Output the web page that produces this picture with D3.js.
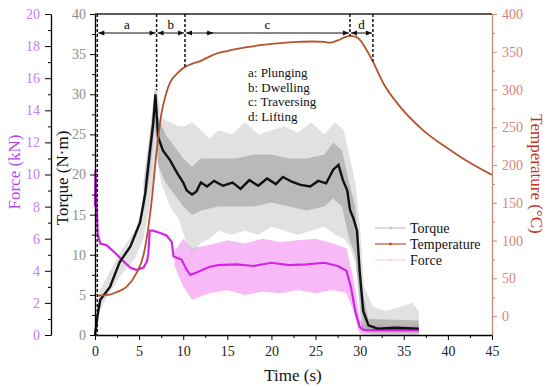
<!DOCTYPE html>
<html>
<head>
<meta charset="utf-8">
<script src="https://cdn.jsdelivr.net/npm/d3@7"></script>
<style>
  body { margin: 0; background: #fff; }
</style>
</head>
<body>
<div id="chart"></div>
<script>
// temperature (deg C) vs time
var tempTime = [0.3, 1.5, 2.5, 3.6, 4.7, 5.5, 6.0, 6.4, 7.0, 7.55, 8.0, 8.5, 9.3, 10.2, 11.0, 12.0, 13.4, 15.0, 17.2, 19.0, 21.0, 23.0, 24.7, 26.0, 26.6, 27.5, 28.3, 28.9, 29.5, 30.0, 30.8, 31.5, 32.7, 34.6, 37.2, 40.25, 42.5, 45];
var temp = [27, 28, 32, 39, 57, 81, 114, 150, 220, 269, 292, 309, 321, 330, 334, 338, 346, 351, 356, 359, 361.5, 363, 363.6, 363, 362, 365, 369, 371, 370, 366, 352, 337, 308, 277, 246, 220, 203, 187];

// torque (N.m) mean line
var torqueTime = [0, 0.3, 0.6, 1.7, 2.8, 4.0, 5.1, 5.7, 6.2, 6.6, 6.85, 7.15, 7.7, 8.5, 9.3, 10.0, 10.4, 11.0, 11.5, 12.0, 12.7, 13.5, 14.5, 15.6, 16.5, 17.5, 18.5, 19.5, 20.5, 21.3, 22.3, 23.3, 24.4, 25.3, 26.2, 27.0, 27.6, 28.1, 28.6, 28.9, 29.3, 29.7, 30.0, 30.4, 31.0, 32, 34, 36.7];
var torque = [0, 2.5, 4.4, 6, 9.1, 11, 14, 17.7, 22.7, 26.4, 30, 24.7, 23, 21.8, 20.2, 19, 18, 17.5, 17.9, 19, 18.5, 19.2, 18.6, 19, 18.2, 19.3, 18.6, 19.5, 18.8, 19.7, 19.1, 18.7, 18.5, 19.2, 18.9, 20.6, 21.2, 19.3, 18, 15.6, 14.5, 13, 8, 3, 1.2, 0.8, 0.9, 0.8];

// torque scatter envelope (outer, light)
var torqueBandTime = [0, 0.5, 1.5, 3, 4.5, 5.5, 6.2, 6.7, 7.0, 7.5, 8.5, 9.5, 10.2, 11, 12, 13, 14, 15.5, 17, 18.5, 20, 21.5, 23, 24.5, 26, 27.2, 28.2, 28.9, 29.5, 30.0, 30.5, 31.5, 33, 34.5, 36, 36.7];
var torqueHigh = [1, 5.5, 7.5, 10.5, 13, 16, 24, 29, 31.5, 27, 26.5, 26, 26, 26.5, 25.5, 24.5, 25.5, 25, 26.5, 25, 25.5, 26, 25.2, 26.5, 25, 26.5, 25.5, 22, 19, 14, 6, 3.5, 3, 3.5, 4, 3];
var torqueLow = [0, 3, 5, 7.5, 9.5, 12, 16, 20, 22, 19, 16, 14.5, 12, 10, 11.5, 12, 13, 12.5, 13, 12.5, 13.5, 13, 12.5, 13, 13.5, 12.5, 12, 11, 9, 5, 0.5, 0, 0, 0, 0, 0];

// torque scatter, dense core
var torqueMidTime = [5.5, 6.2, 6.8, 7.2, 8, 9, 10, 11, 12, 14, 16, 18, 20, 22, 24, 26, 27, 28, 28.8, 29.5, 30.2, 31, 36.7];
var torqueMidHigh = [19, 25, 31, 27, 25, 23.5, 22, 21, 22, 22, 22, 22.5, 22.5, 22, 22, 22.5, 24, 23, 19, 16, 6, 2, 1.8];
var torqueMidLow = [15, 20, 26, 21, 19, 17.5, 16, 15, 15.5, 16, 16, 16, 16.5, 16, 15.5, 16, 17, 16, 12, 10, 1, 0.3, 0.3];

// force (kN) mean line
var forceTime = [0, 0.05, 0.3, 0.6, 1.3, 2.5, 3.2, 4.0, 4.7, 5.5, 5.9, 6.05, 6.2, 6.6, 7.4, 8.1, 8.7, 8.9, 9.3, 9.8, 10.4, 10.8, 11.5, 13, 14, 16, 18, 20, 22, 24, 26, 27.5, 28.5, 29.0, 29.5, 30.0, 30.5, 32, 34, 36.7];
var force = [8, 10.3, 6.3, 5.7, 5.6, 5.0, 4.6, 4.2, 4.05, 4.2, 4.6, 5.1, 6.5, 6.5, 6.35, 6.2, 5.8, 4.9, 4.8, 4.7, 4.05, 3.75, 3.9, 4.25, 4.35, 4.4, 4.3, 4.5, 4.35, 4.4, 4.5, 4.3, 4.0, 3.0, 1.5, 0.5, 0.3, 0.3, 0.3, 0.3];

// force scatter envelope
var forceBandTime = [9.0, 10.0, 11, 13, 15, 17, 19, 21, 23, 25, 27, 28.5, 29.3, 30, 30.5, 36.7];
var forceHigh = [5.2, 6.0, 5.4, 5.6, 5.9, 5.7, 6.0, 5.8, 5.9, 6.0, 5.7, 5.4, 3.5, 1.0, 0.6, 0.6];
var forceLow = [4.3, 3.0, 2.2, 2.6, 2.8, 2.5, 2.7, 2.6, 2.8, 2.6, 2.8, 2.6, 1.5, 0.1, 0.05, 0.05];

// process stages
var stageBounds = [0.26, 6.98, 10.2, 28.9, 31.5];
var stageLetters = ["a", "b", "c", "d"];
var stageNames = ["a: Plunging", "b: Dwelling", "c: Traversing", "d: Lifting"];

var timeTicks = [0, 5, 10, 15, 20, 25, 30, 35, 40, 45];
var torqueTicks = [0, 5, 10, 15, 20, 25, 30, 35, 40];
var forceTicks = [0, 2, 4, 6, 8, 10, 12, 14, 16, 18, 20];
var tempTicks = [0, 50, 100, 150, 200, 250, 300, 350, 400];

function drawChart() {
    var width = 550, height = 388;
    var plotLeft = 95, plotRight = 492, plotTop = 14, plotBottom = 335;

    var svg = d3.select("#chart")
        .append("svg")
        .attr("width", width)
        .attr("height", height);

    var x = d3.scaleLinear().domain([0, 45]).range([plotLeft, plotRight]);
    var yT = d3.scaleLinear().domain([0, 40]).range([plotBottom, plotTop]);
    var yF = d3.scaleLinear().domain([0, 20]).range([plotBottom, plotTop]);
    var yC = d3.scaleLinear().domain([-25, 400]).range([plotBottom, plotTop]);

    function zip(a, b) { return a.map(function(v, i) { return [v, b[i]]; }); }
    function band(t, lo, hi) { return t.map(function(v, i) { return [v, lo[i], hi[i]]; }); }

    // --- bands
    svg.append("path")
        .datum(band(forceBandTime, forceLow, forceHigh))
        .attr("fill", "#f7aef5")
        .attr("opacity", 0.85)
        .attr("d", d3.area().x(d => x(d[0])).y0(d => yF(d[1])).y1(d => yF(d[2])));

    svg.append("path")
        .datum(band(torqueBandTime, torqueLow, torqueHigh))
        .attr("fill", "#c4c4c4")
        .attr("opacity", 0.5)
        .attr("d", d3.area().x(d => x(d[0])).y0(d => yT(d[1])).y1(d => yT(d[2])));

    svg.append("path")
        .datum(band(torqueMidTime, torqueMidLow, torqueMidHigh))
        .attr("fill", "#8a8a8a")
        .attr("opacity", 0.45)
        .attr("d", d3.area().x(d => x(d[0])).y0(d => yT(d[1])).y1(d => yT(d[2])));

    // --- lines
    svg.append("path")
        .datum(zip(forceTime, force))
        .attr("fill", "none")
        .attr("stroke", "#d226e6")
        .attr("stroke-width", 2.2)
        .attr("d", d3.line().x(d => x(d[0])).y(d => yF(d[1])));

    svg.append("path")
        .datum(zip(torqueTime, torque))
        .attr("fill", "none")
        .attr("stroke", "#111")
        .attr("stroke-width", 2.4)
        .attr("d", d3.line().x(d => x(d[0])).y(d => yT(d[1])));

    svg.append("path")
        .datum(zip(tempTime, temp))
        .attr("fill", "none")
        .attr("stroke", "#b5532c")
        .attr("stroke-width", 1.8)
        .attr("d", d3.line().curve(d3.curveMonotoneX).x(d => x(d[0])).y(d => yC(d[1])));

    // --- axes
    var xAxis = svg.append("g")
        .attr("transform", "translate(0," + plotBottom + ")")
        .call(d3.axisBottom(x).tickValues(timeTicks).tickSize(5).tickSizeOuter(0).tickPadding(6));
    xAxis.append("g").call(d3.axisBottom(x).tickValues(d3.range(2.5, 45, 5)).tickSize(3).tickFormat(""))
        .select(".domain").remove();

    var tAxis = svg.append("g")
        .attr("transform", "translate(" + plotLeft + ",0)")
        .call(d3.axisLeft(yT).tickValues(torqueTicks).tickSize(5).tickSizeOuter(0).tickPadding(4));
    tAxis.append("g").call(d3.axisLeft(yT).tickValues(d3.range(2.5, 40, 5)).tickSize(3).tickFormat(""))
        .select(".domain").remove();
    tAxis.selectAll(".tick text").attr("fill", "#8c8c8c");

    var fAxis = svg.append("g")
        .attr("transform", "translate(51,0)")
        .call(d3.axisLeft(yF).tickValues(forceTicks).tickSize(6).tickSizeOuter(0).tickPadding(5));
    fAxis.append("g").call(d3.axisLeft(yF).tickValues(d3.range(1, 20, 2)).tickSize(3).tickFormat(""))
        .select(".domain").remove();
    fAxis.selectAll(".tick text").attr("fill", "#c27ef2");

    var cAxis = svg.append("g")
        .attr("transform", "translate(" + plotRight + ",0)")
        .call(d3.axisRight(yC).tickValues(tempTicks).tickSize(5).tickSizeOuter(0).tickPadding(5));
    cAxis.append("g").call(d3.axisRight(yC).tickValues(d3.range(25, 400, 50)).tickSize(3).tickFormat(""))
        .select(".domain").remove();
    cAxis.selectAll(".tick text").attr("fill", "#d9837a");
    cAxis.selectAll("line, path").attr("stroke", "#c88a7c");

    [xAxis, tAxis, fAxis, cAxis].forEach(function(a) {
        a.selectAll(".tick text").style("font-size", "14px");
        a.selectAll("path.domain").attr("stroke-width", 1.3);
    });
    xAxis.selectAll(".tick text").attr("fill", "#222");

    // top frame
    svg.append("line")
        .attr("x1", plotLeft).attr("x2", plotRight)
        .attr("y1", plotTop).attr("y2", plotTop)
        .attr("stroke", "#222").attr("stroke-width", 1.3);

    // --- stage markers
    var dashEnds = [plotBottom, yT(30.5), yC(330), yC(371), yC(337)];
    svg.append("g")
        .selectAll("line")
        .data(stageBounds)
        .enter()
        .append("line")
        .attr("x1", d => x(d)).attr("x2", d => x(d))
        .attr("y1", plotTop).attr("y2", (d, i) => dashEnds[i])
        .attr("stroke", "#111")
        .attr("stroke-width", 1.5)
        .attr("stroke-dasharray", "3,2");

    svg.append("defs").append("marker")
        .attr("id", "arr")
        .attr("viewBox", "0 0 10 10")
        .attr("refX", 10).attr("refY", 5)
        .attr("markerWidth", 7).attr("markerHeight", 6)
        .attr("orient", "auto-start-reverse")
        .append("path")
        .attr("d", "M0,1 L10,5 L0,9 Z")
        .attr("fill", "#111");

    var arrowY = 33;
    for (var i = 0; i < stageLetters.length; i++) {
        svg.append("line")
            .attr("x1", x(stageBounds[i]) + 1).attr("x2", x(stageBounds[i + 1]) - 1)
            .attr("y1", arrowY).attr("y2", arrowY)
            .attr("stroke", "#111").attr("stroke-width", 1)
            .attr("marker-start", "url(#arr)")
            .attr("marker-end", "url(#arr)");
        svg.append("text")
            .attr("x", (x(stageBounds[i]) + x(stageBounds[i + 1])) / 2)
            .attr("y", 29)
            .attr("text-anchor", "middle")
            .style("font-size", "13px")
            .text(stageLetters[i]);
    }
    // stray arrow head in stage c
    svg.append("line")
        .attr("x1", x(12.6)).attr("x2", x(13.4))
        .attr("y1", arrowY).attr("y2", arrowY)
        .attr("stroke", "#111").attr("marker-end", "url(#arr)");

    svg.append("g")
        .selectAll("text")
        .data(stageNames)
        .enter()
        .append("text")
        .attr("x", 248)
        .attr("y", (d, i) => 77 + i * 14.7)
        .style("font-size", "13px")
        .attr("fill", "#111")
        .text(d => d);

    // --- legend
    var legend = [
        {name: "Torque", color: "#c4c4c4", y: 228},
        {name: "Temperature", color: "#b5532c", y: 244},
        {name: "Force", color: "#f6d0f4", y: 260}
    ];
    legend.forEach(function(l) {
        svg.append("line")
            .attr("x1", 375).attr("x2", 406)
            .attr("y1", l.y).attr("y2", l.y)
            .attr("stroke", l.color).attr("stroke-width", 1.2);
        svg.append("circle")
            .attr("cx", 390.5).attr("cy", l.y).attr("r", 1.4)
            .attr("fill", l.color);
        svg.append("text")
            .attr("x", 410).attr("y", l.y + 5)
            .style("font-size", "14px")
            .attr("fill", "#111")
            .text(l.name);
    });

    // --- axis titles
    svg.append("text")
        .attr("x", 293).attr("y", 381)
        .attr("text-anchor", "middle")
        .style("font-size", "17px")
        .attr("fill", "#111")
        .text("Time (s)");

    svg.append("text")
        .attr("transform", "translate(20,172) rotate(-90)")
        .attr("text-anchor", "middle")
        .style("font-size", "17px")
        .attr("fill", "#b44ae6")
        .text("Force (kN)");

    svg.append("text")
        .attr("transform", "translate(68,178) rotate(-90)")
        .attr("text-anchor", "middle")
        .style("font-size", "17px")
        .attr("fill", "#111")
        .text("Torque (N·m)");

    svg.append("text")
        .attr("transform", "translate(531,174) rotate(90)")
        .attr("text-anchor", "middle")
        .style("font-size", "17px")
        .attr("fill", "#c1331f")
        .text("Temperature (°C)");

    // every text in Times-like serif
    svg.selectAll("text").style("font-family", "'Liberation Serif'");
}

drawChart();
</script>
</body>
</html>
